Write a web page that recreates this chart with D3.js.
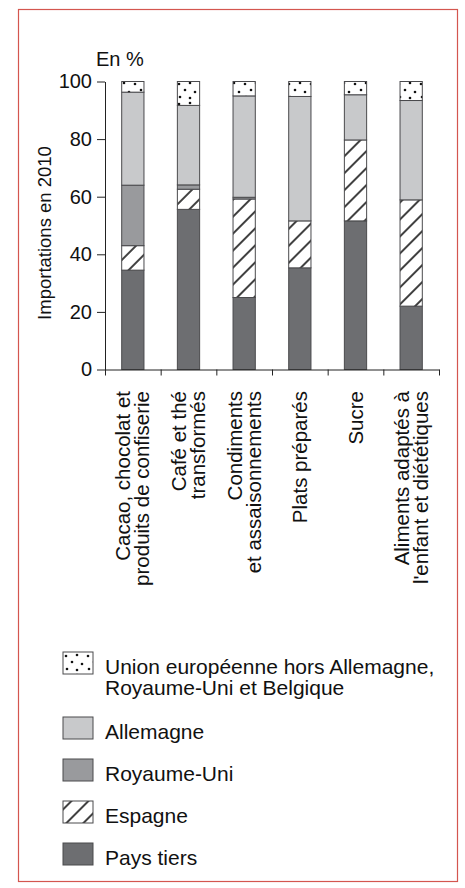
<!DOCTYPE html>
<html>
<head>
<meta charset="utf-8">
<script src="https://cdn.jsdelivr.net/npm/d3@7"></script>
<style>
  body { margin: 0; background: #fff; }
  svg text { font-family: "Liberation Sans", Arial, Helvetica, sans-serif; fill: #111; }
</style>
</head>
<body>
<div id="chart"></div>
<script>
// data (percent of imports, 2010)
var categories = [
  ["Cacao, chocolat et", "produits de confiserie"],
  ["Café et thé", "transformés"],
  ["Condiments", "et assaisonnements"],
  ["Plats préparés"],
  ["Sucre"],
  ["Aliments adaptés à", "l'enfant et diététiques"]
];
var paysTiers  = [34.5, 55.6, 25, 35.3, 51.6, 22];
var espagne    = [8.5, 7, 34.2, 16.3, 28.1, 36.9];
var royaumeUni = [21, 1.5, 0.6, 0, 0, 0];
var allemagne  = [32.3, 27.6, 35.2, 43.2, 15.7, 34.5];
var ueHors     = [3.7, 8.3, 5, 5.2, 4.6, 6.6];
var yTicks = [0, 20, 40, 60, 80, 100];

var keys = ["paysTiers", "espagne", "royaumeUni", "allemagne", "ueHors"];

var rows = categories.map(function(c, i) {
  return { paysTiers: paysTiers[i], espagne: espagne[i], royaumeUni: royaumeUni[i],
           allemagne: allemagne[i], ueHors: ueHors[i] };
});

var svgWidth = 465, svgHeight = 888;
var svg = d3.select("#chart").append("svg")
  .attr("width", svgWidth)
  .attr("height", svgHeight);

// patterns
var defs = svg.append("defs");
var hatch = defs.append("pattern")
  .attr("id", "hatch")
  .attr("patternUnits", "userSpaceOnUse")
  .attr("width", 12).attr("height", 12)
  .attr("patternTransform", "rotate(45)");
hatch.append("rect").attr("width", 12).attr("height", 12).attr("fill", "#fff");
hatch.append("line").attr("x1", 6).attr("x2", 6).attr("y1", 0).attr("y2", 12)
  .attr("stroke", "#111").attr("stroke-width", 1.6);

var dots = defs.append("pattern")
  .attr("id", "dots")
  .attr("patternUnits", "userSpaceOnUse")
  .attr("width", 22).attr("height", 20);
dots.append("rect").attr("width", 22).attr("height", 20).attr("fill", "#fff");
[[3, 4], [14, 3], [9, 10], [19, 12], [4, 17], [14, 18]].forEach(function(p) {
  dots.append("circle").attr("cx", p[0]).attr("cy", p[1]).attr("r", 1.3).attr("fill", "#111");
});

var fills = {
  paysTiers: "#6d6e71",
  espagne: "url(#hatch)",
  royaumeUni: "#999a9d",
  allemagne: "#c8c9cb",
  ueHors: "url(#dots)"
};

// frame
svg.append("rect")
  .attr("x", 18.5).attr("y", 9.5)
  .attr("width", 439).attr("height", 872)
  .attr("fill", "none")
  .attr("stroke", "#d4564f")
  .attr("stroke-width", 1.2);

// scales
var x = d3.scaleBand()
  .domain(d3.range(categories.length))
  .range([105, 439])
  .paddingInner(0.6)
  .paddingOuter(0.3);
var xEdges = d3.scaleLinear().domain([0, categories.length]).range([105, 439]);
var y = d3.scaleLinear().domain([0, 100]).range([369.5, 81.5]);

var stacked = d3.stack().keys(keys)(rows);

// bars
svg.append("g").selectAll("g")
  .data(stacked)
  .enter().append("g")
  .attr("fill", function(s) { return fills[s.key]; })
  .selectAll("rect")
  .data(function(s) { return s.filter(function(d) { return d[1] - d[0] > 0; }); })
  .enter().append("rect")
  .attr("x", function(d) { return x(rows.indexOf(d.data)); })
  .attr("y", function(d) { return y(d[1]); })
  .attr("width", x.bandwidth())
  .attr("height", function(d) { return y(d[0]) - y(d[1]); })
  .attr("stroke", "#4a4a4d")
  .attr("stroke-width", 1);

// axes
var yAxis = svg.append("g")
  .attr("transform", "translate(105,0)")
  .call(d3.axisLeft(y).tickValues(yTicks).tickSize(8).tickSizeOuter(0).tickPadding(5));
yAxis.selectAll("text")
  .style("font-size", "20px")
  .style("font-family", "'Liberation Sans', Arial, sans-serif")
  .attr("fill", "#111");
yAxis.selectAll("line, path").attr("stroke", "#222");

var xAxis = svg.append("g")
  .attr("transform", "translate(0,369.5)")
  .call(d3.axisBottom(xEdges).tickValues(d3.range(categories.length + 1))
    .tickFormat("").tickSize(6).tickSizeOuter(0));
xAxis.selectAll("line, path").attr("stroke", "#222");

// axis titles
svg.append("text")
  .attr("x", 96).attr("y", 66)
  .style("font-size", "20px")
  .text("En %");

svg.append("text")
  .attr("transform", "translate(51,233) rotate(-90)")
  .style("text-anchor", "middle")
  .style("font-size", "18.5px")
  .text("Importations en 2010");

// category labels, rotated
var labels = svg.append("g").selectAll("text")
  .data(categories)
  .enter().append("text")
  .attr("transform", function(d, i) {
    return "translate(" + (x(i) + x.bandwidth() / 2) + ",391) rotate(-90)";
  })
  .style("text-anchor", "end")
  .style("font-size", "20.5px");
labels.selectAll("tspan")
  .data(function(d) { return d.map(function(t, j) { return { t: t, j: j, n: d.length }; }); })
  .enter().append("tspan")
  .attr("x", 0)
  .attr("y", function(d) { return 7 + (d.j - (d.n - 1) / 2) * 19; })
  .text(function(d) { return d.t; });

// legend
var legendItems = [
  { key: "ueHors", lines: ["Union européenne hors Allemagne,", "Royaume-Uni et Belgique"], top: 652 },
  { key: "allemagne", lines: ["Allemagne"], top: 717 },
  { key: "royaumeUni", lines: ["Royaume-Uni"], top: 759 },
  { key: "espagne", lines: ["Espagne"], top: 801 },
  { key: "paysTiers", lines: ["Pays tiers"], top: 843 }
];
var legend = svg.append("g").selectAll("g")
  .data(legendItems)
  .enter().append("g")
  .attr("transform", function(d) { return "translate(63," + d.top + ")"; });
legend.append("rect")
  .attr("width", 30).attr("height", 22)
  .attr("fill", function(d) { return fills[d.key]; })
  .attr("stroke", "#4a4a4d");
legend.append("text")
  .style("font-size", "21px")
  .selectAll("tspan")
  .data(function(d) { return d.lines; })
  .enter().append("tspan")
  .attr("x", 42)
  .attr("y", function(d, j) { return 21.5 + j * 21.5; })
  .text(function(d) { return d; });
</script>
</body>
</html>
